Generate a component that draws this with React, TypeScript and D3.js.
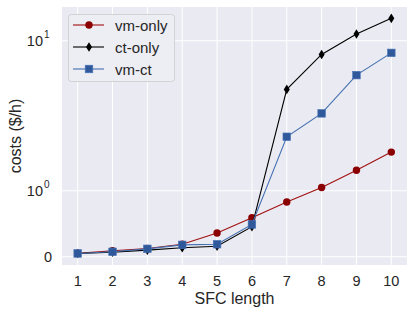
import React from 'react';
import * as d3 from 'd3';

const sfcLength = [1, 2, 3, 4, 5, 6, 7, 8, 9, 10];
const vmOnly = [0.052, 0.09, 0.125, 0.19, 0.36, 0.59, 0.83, 1.05, 1.37, 1.81];
const ctOnly = [0.05, 0.07, 0.1, 0.136, 0.16, 0.455, 4.74, 8.1, 11.1, 14.1];
const vmCt = [0.05, 0.075, 0.12, 0.18, 0.19, 0.49, 2.29, 3.28, 5.9, 8.3];
const seriesNames = ['vm-only', 'ct-only', 'vm-ct'];
const xTicks = [1, 2, 3, 4, 5, 6, 7, 8, 9, 10];

// symlog-ish transform: linear below 1, log above
const LIN = 0.44;
const tf = (v: number) => (v <= 1 ? v * LIN : LIN + Math.log10(v));

const W = 415, H = 315;
const left = 62, right = 407, top = 7, bottom = 265;

const x = d3.scaleLinear().domain([0.55, 10.45]).range([left, right]);
const yT = d3.scaleLinear().domain([-0.055, 1.665]).range([bottom, top]);
const y = (v: number) => yT(tf(v));

const font = '"Liberation Sans", Arial, sans-serif';

const series = [
  { name: seriesNames[0], data: vmOnly, line: '#a01010', fill: '#8b0000', marker: 'circle' },
  { name: seriesNames[1], data: ctOnly, line: '#000000', fill: '#000000', marker: 'diamond' },
  { name: seriesNames[2], data: vmCt, line: '#4470b0', fill: '#30599c', marker: 'square' },
];

function Marker({ kind, cx, cy, fill }: { kind: string; cx: number; cy: number; fill: string }) {
  if (kind === 'circle') return <circle cx={cx} cy={cy} r={3.7} fill={fill} />;
  if (kind === 'square') return <rect x={cx - 3.8} y={cy - 3.8} width={7.6} height={7.6} fill={fill} stroke="#4a76b8" strokeWidth={0.6} />;
  return <path d={`M${cx},${cy - 4.8}L${cx + 3},${cy}L${cx},${cy + 4.8}L${cx - 3},${cy}Z`} fill={fill} />;
}

export default function App() {
  const line = d3.line<number>().x((_, i) => x(sfcLength[i])).y((d) => y(d));
  const yTicks = [
    { v: 0, base: '0', sup: '' },
    { v: 1, base: '10', sup: '0' },
    { v: 10, base: '10', sup: '1' },
  ];
  return (
    <svg width={W} height={H} style={{ position: 'absolute', left: 0, top: 0 }} fontFamily={font}>
      <rect x={0} y={0} width={W} height={H} fill="#ffffff" />
      <rect x={left} y={top} width={right - left} height={bottom - top} fill="#eaeaf2" />
      {xTicks.map((t) => (
        <line key={'gx' + t} x1={x(t)} x2={x(t)} y1={top} y2={bottom} stroke="#ffffff" strokeWidth={1} />
      ))}
      {yTicks.map((t) => (
        <line key={'gy' + t.v} x1={left} x2={right} y1={y(t.v)} y2={y(t.v)} stroke="#ffffff" strokeWidth={1} />
      ))}
      {series.map((s) => (
        <g key={s.name}>
          <path d={line(s.data) || ''} fill="none" stroke={s.line} strokeWidth={1.1} />
          {s.data.map((d, i) => (
            <Marker key={i} kind={s.marker} cx={x(sfcLength[i])} cy={y(d)} fill={s.fill} />
          ))}
        </g>
      ))}
      {xTicks.map((t) => (
        <text key={'tx' + t} x={x(t)} y={285.5} textAnchor="middle" fontSize={14.5} fill="#262626">{t}</text>
      ))}
      {yTicks.map((t) => (
        <text key={'ty' + t.v} x={t.sup ? 43 : 52} y={y(t.v) + 5.5} textAnchor="end" fontSize={14.5} fill="#262626">
          {t.base}
        </text>
      ))}
      {yTicks.filter((t) => t.sup).map((t) => (
        <text key={'ts' + t.v} x={44} y={y(t.v) - 3} fontSize={10} fill="#262626">{t.sup}</text>
      ))}
      <text x={(left + right) / 2} y={304} textAnchor="middle" fontSize={16} fill="#262626">SFC length</text>
      <text transform={`translate(21,${(top + bottom) / 2}) rotate(-90)`} textAnchor="middle" fontSize={16} fill="#262626">costs ($/h)</text>
      <g>
        <rect x={68.5} y={14.5} width={106} height={67} rx={3} fill="#eaeaf2" stroke="#cccccc" strokeWidth={0.8} />
        <rect x={69} y={15} width={105} height={66} rx={3} fill="#ffffff" opacity={0.15} />
        {series.map((s, i) => {
          const ly = 25 + i * 22;
          return (
            <g key={'lg' + s.name}>
              <line x1={73} x2={104} y1={ly} y2={ly} stroke={s.line} strokeWidth={1.1} />
              <Marker kind={s.marker} cx={89} cy={ly} fill={s.fill} />
              <text x={115} y={ly + 5.5} fontSize={15} fill="#262626">{s.name}</text>
            </g>
          );
        })}
      </g>
    </svg>
  );
}
